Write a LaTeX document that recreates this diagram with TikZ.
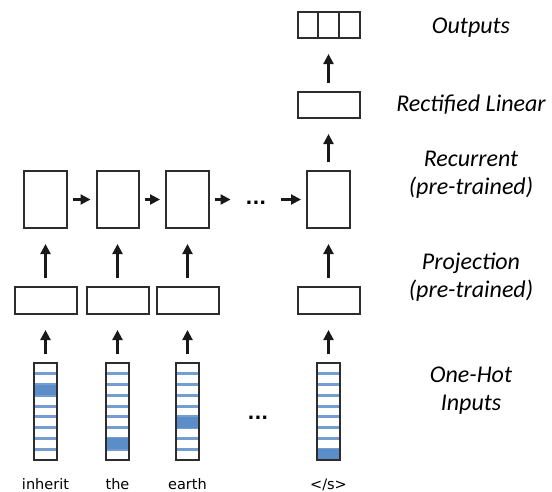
\documentclass[tikz,border=0pt]{standalone}
\usepackage{fontspec}
\setmainfont{DejaVu Sans}
\newfontfamily\calfont{Carlito}
\usetikzlibrary{arrows.meta,calc,shadows}

\definecolor{hotblue}{RGB}{91,141,201}
\definecolor{boxgray}{RGB}{45,45,45}

\begin{document}
\begin{tikzpicture}[x=1pt,y=-1pt,
    box/.style={draw=boxgray,line width=2pt,fill=white,inner sep=0pt,
      drop shadow={shadow xshift=1pt,shadow yshift=-1pt,opacity=0.25}},
    recbox/.style={box,minimum width=43pt,minimum height=57pt},
    projbox/.style={box,minimum width=62pt,minimum height=27pt},
    outbox/.style={projbox,minimum height=26pt,path picture={
        \foreach \f in {1,2}
          \draw[boxgray,line width=2pt]
            ($(path picture bounding box.north west)!\f/3!(path picture bounding box.north east)$) --
            ($(path picture bounding box.south west)!\f/3!(path picture bounding box.south east)$);}},
    onehot/.style={box,minimum width=23pt,minimum height=97pt,path picture={
        \foreach \k in {1,...,8}
          \draw[hotblue!85,line width=2.8pt]
            ($(path picture bounding box.north west)!\k/9!(path picture bounding box.south west)$) --
            ($(path picture bounding box.north east)!\k/9!(path picture bounding box.south east)$);
        \fill[hotblue]
          ($(path picture bounding box.north west)!{(#1-1)/9}!(path picture bounding box.south west)$) rectangle
          ($(path picture bounding box.north east)!{#1/9}!(path picture bounding box.south east)$);}},
    dots/.style={font=\bfseries\fontsize{18}{18}\selectfont,inner xsep=10pt,inner ysep=0pt,
      text height=10pt,text depth=0pt},
    layer/.style={font=\calfont\itshape\fontsize{24}{28}\selectfont,align=center,anchor=base},
    word/.style={font=\fontsize{14.5}{17}\selectfont,anchor=base},
    up/.style={-{Triangle[length=10pt,width=10pt]},draw=black!90,line width=2.2pt,
      shorten <=8pt,shorten >=15pt},
    next/.style={up,shorten <=5pt,shorten >=5pt}]
  \useasboundingbox (0,0) rectangle (552,491);
  \draw
    (45.5,411.5) node[onehot=3] (hot1){}
    (117.5,411.5) node[onehot=8] (hot2){}
    (187.5,411.5) node[onehot=6] (hot3){}
    (258,414) node[dots] (hotdots){...}
    (328.5,411.5) node[onehot=9] (hot4){};
  \draw
    (45.5,300.5) node[projbox] (proj1){}
    (117.5,300.5) node[projbox] (proj2){}
    (187.5,300.5) node[projbox] (proj3){}
    (328.5,300.5) node[projbox] (proj4){};
  \draw
    (45.5,199.5) node[recbox] (rec1){}
    (117.5,199.5) node[recbox,minimum width=42pt] (rec2){}
    (187.5,199.5) node[recbox] (rec3){}
    (256,199.5) node[dots] (recdots){...}
    (328.5,199.5) node[recbox] (rec4){};
  \draw
    (328.5,105) node[projbox,minimum height=26pt] (relu){}
    (328.5,25) node[outbox] (out){};
  \begin{scope}[every node/.style={word}]
    \node at (45.5,489) (w1){inherit};
    \node at (117.5,489) (w2){the};
    \node at (187.5,489) (w3){earth};
    \node at (328.5,489) (w4){\textless/s\textgreater};
  \end{scope}
  \begin{scope}[every node/.style={layer}]
    \node at (471,33) (lout){Outputs};
    \node at (471,111) (lrelu){Rectified Linear};
    \node at (471,194) (lrec){Recurrent\\(pre-trained)};
    \node at (471,297) (lproj){Projection\\(pre-trained)};
    \node at (471,410) (lhot){One-Hot\\Inputs};
  \end{scope}
  \begin{scope}[up]
    \draw (hot1) -- (proj1);
    \draw (hot2) -- (proj2);
    \draw (hot3) -- (proj3);
    \draw (hot4) -- (proj4);
    \draw (proj1) -- (rec1);
    \draw (proj2) -- (rec2);
    \draw (proj3) -- (rec3);
    \draw (proj4) -- (rec4);
    \draw (rec4) -- (relu);
    \draw (relu) -- (out);
  \end{scope}
  \begin{scope}[next]
    \draw (rec1) -- (rec2);
    \draw (rec2) -- (rec3);
    \draw (rec3) -- (recdots);
    \draw (recdots) -- (rec4);
  \end{scope}
\end{tikzpicture}
\end{document}
